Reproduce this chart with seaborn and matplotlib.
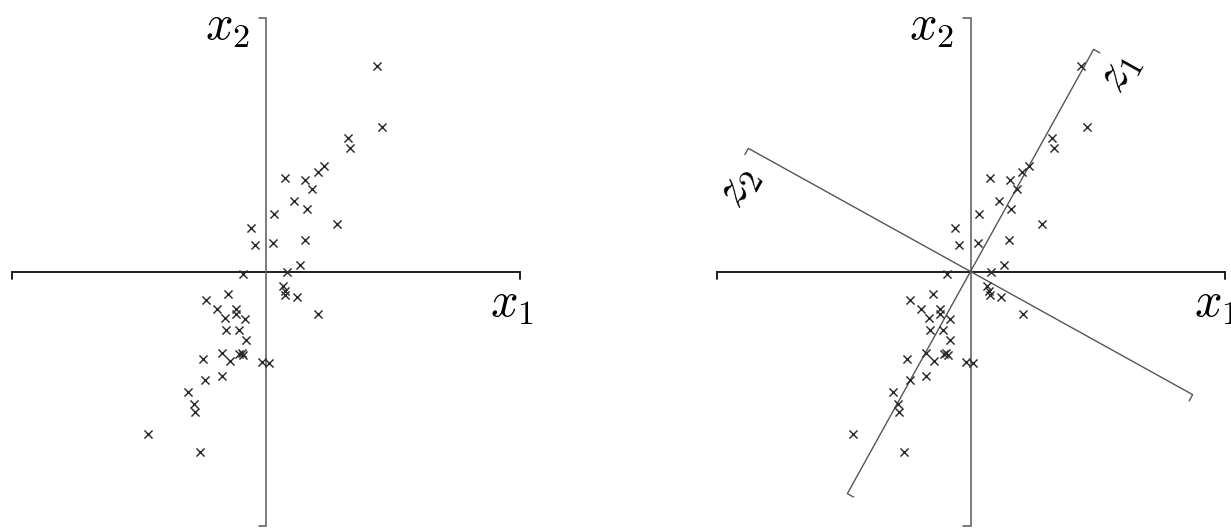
import numpy as np
import pandas as pd
import matplotlib
matplotlib.use("Agg")
import matplotlib.pyplot as plt
import seaborn as sns

# Sample points (x1, x2)
x1 = [2.18, 2.29, 1.61, 1.65, 1.15, 1.02, 0.38, 0.77, 0.91, 0.56,
      0.80, 0.16, 1.40, -0.30, -0.22, 0.14, 0.76, 0.66, 0.41, -0.46,
      0.33, 0.37, 0.38, 0.61, 1.03, -0.74, -1.19, -0.97, -0.60, -0.60,
      -0.81, -0.41, -0.79, -0.54, -0.40, -0.87, -0.53, -0.48, -0.45, -0.71,
      -1.25, -0.08, 0.05, -1.20, -0.87, -1.53, -1.42, -1.40, -2.32, -1.30]
x2 = [4.05, 2.84, 2.62, 2.43, 2.07, 1.96, 1.85, 1.81, 1.62, 1.38,
      1.23, 1.14, 0.94, 0.85, 0.52, 0.56, 0.62, 0.13, -0.01, -0.05,
      -0.29, -0.39, -0.46, -0.51, -0.83, -0.45, -0.57, -0.74, -0.73, -0.84,
      -0.92, -0.94, -1.15, -1.16, -1.34, -1.60, -1.62, -1.61, -1.64, -1.76,
      -1.72, -1.79, -1.80, -2.14, -2.06, -2.37, -2.60, -2.76, -3.19, -3.56]

axis_labels = [r"$x_1$", r"$x_2$"]
pc_labels = [r"$z_1$", r"$z_2$"]
pc_angle = 61.0          # direction of the first principal axis, degrees

df = pd.DataFrame({"x1": x1, "x2": x2})

sns.set_style("white")
plt.rcParams["mathtext.fontset"] = "cm"

W, H, DPI = 1231, 531, 100
SCALE = 50.8             # pixels per data unit
HALF = 5.0               # half-length of each drawn axis
TICK = 0.14              # end-tick length
LABEL_SIZE = 35

fig = plt.figure(figsize=(W / DPI, H / DPI), dpi=DPI)
fig.patch.set_facecolor("white")


def make_axes(px_left, px_width, ox, oy):
    ax = fig.add_axes([px_left / W, 0, px_width / W, 1])
    ax.set_xlim((px_left - ox) / SCALE, (px_left + px_width - ox) / SCALE)
    ax.set_ylim((oy - H) / SCALE, oy / SCALE)
    ax.axis("off")
    return ax


def rot(x, y, deg):
    t = np.deg2rad(deg)
    c, s = np.cos(t), np.sin(t)
    return c * x - s * y, s * x + c * y


def draw_frame(ax, labels, deg=0.0, colors=("#1e1e1e", "#5a5a5a"),
               lws=(1.4, 1.1)):
    # first axis with downward end ticks
    seg = np.array([[-HALF, -TICK], [-HALF, 0], [HALF, 0], [HALF, -TICK]])
    xs, ys = rot(seg[:, 0], seg[:, 1], deg)
    ax.plot(xs, ys, color=colors[0], lw=lws[0], solid_joinstyle="miter",
            zorder=1)
    # second axis with leftward end ticks
    seg = np.array([[-TICK, -HALF], [0, -HALF], [0, HALF], [-TICK, HALF]])
    xs, ys = rot(seg[:, 0], seg[:, 1], deg)
    ax.plot(xs, ys, color=colors[1], lw=lws[1], solid_joinstyle="miter",
            zorder=1)
    # labels near the positive ends
    for (lx, ly), txt in zip([(4.84, -0.62), (-0.76, 4.83)], labels):
        px, py = rot(lx, ly, deg)
        ax.text(px, py, txt, fontsize=LABEL_SIZE, rotation=deg,
                rotation_mode="anchor", ha="center", va="center",
                color="black", clip_on=False)


def draw_points(ax):
    sns.scatterplot(data=df, x="x1", y="x2", ax=ax, marker="x", s=34,
                    color="#2b2b2b", linewidth=1.05, legend=False, zorder=3)
    ax.set_xlabel("")
    ax.set_ylabel("")


# left panel: raw data
ax_l = make_axes(0, 560, 266.0, 271.5)
draw_frame(ax_l, axis_labels)
draw_points(ax_l)
ax_l.axis("off")

# right panel: data with principal axes
ax_r = make_axes(620, W - 620, 970.5, 271.5)
draw_frame(ax_r, axis_labels)
draw_frame(ax_r, pc_labels, deg=pc_angle, colors=("#555555", "#555555"),
           lws=(1.0, 1.0))
draw_points(ax_r)
ax_r.axis("off")

fig.savefig("out.png", dpi=DPI, facecolor="white")
